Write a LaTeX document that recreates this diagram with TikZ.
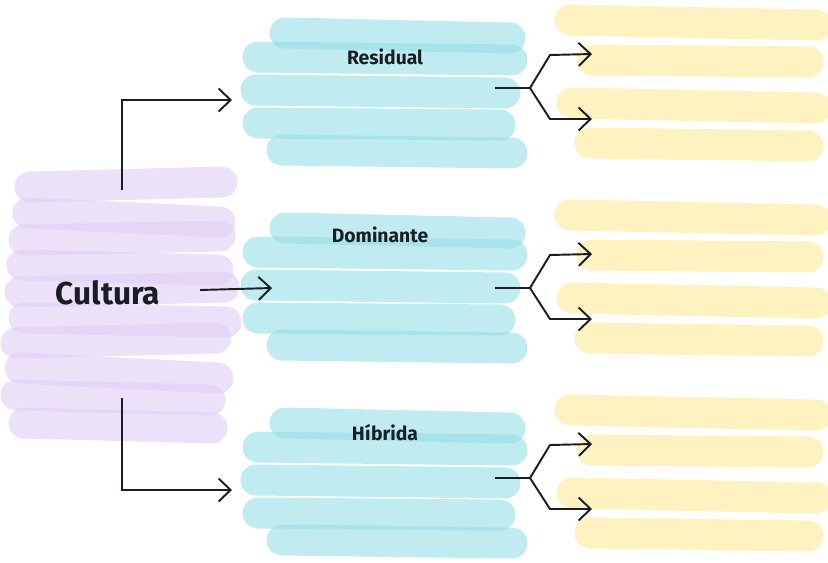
\documentclass[tikz,border=0pt]{standalone}
\usepackage{fontspec}
\setmainfont{Fira Sans}
\usepackage{tikz}
\usetikzlibrary{arrows.meta, positioning}

\definecolor{lila}{RGB}{222,206,246}
\definecolor{turq}{RGB}{150,222,230}
\definecolor{gelb}{RGB}{252,234,150}
\definecolor{ink}{RGB}{25,30,35}

\tikzset{
	marker/.style={line width=0.62cm, line cap=round, opacity=0.6},
	title/.style={font=\fontsize{18}{20}\selectfont\bfseries, text=ink},
	tag/.style={font=\fontsize{11}{13}\selectfont\bfseries, text=ink},
	pen/.style={draw=ink, line width=1.1pt, -{Straight Barb[length=2.4mm, width=4.6mm]}},
	stem/.style={draw=ink, line width=1.1pt}
}

\begin{document}
\begin{tikzpicture}[x=0.02cm, y=-0.02cm]

\useasboundingbox (0,0) rectangle (828,562);

% purple block
\foreach \xa/\ya/\xb/\yb in {30/187/222/182, 28/213/220/222, 24/240/220/236, 22/265/218/270,
	20/292/224/287, 24/318/226/322, 16/343/216/338, 20/368/218/378, 16/395/210/400, 24/423/212/428}
	\draw [marker, lila] (\xa,\ya) -- (\xb,\yb);

% cyan blocks
\foreach \dy in {0, 195, 390} {
	\foreach \xa/\ya/\xb/\yb in {285/33/510/38, 258/57/512/60, 256/90/505/93, 258/123/500/125, 282/150/512/153}
		\draw [marker, turq] (\xa,\ya+\dy) -- (\xb,\yb+\dy);
}

% yellow blocks
\foreach \dy in {0, 195, 390} {
	\foreach \xa/\ya/\xb/\yb in {570/20/816/25, 592/60/808/62, 572/103/816/108, 590/143/808/146}
		\draw [marker, gelb] (\xa,\ya+\dy) -- (\xb,\yb+\dy);
}

\node [title] (cultura) at (108,293) {Cultura};
\node [tag] (residual) at (385,57) {Residual};
\node [tag] (dominante) at (380,235) {Dominante};
\node [tag] (hibrida) at (385,433) {Híbrida};

\coordinate (up)  at (122,190);
\coordinate (mid) at (200,290);
\coordinate (low) at (122,398);
\coordinate (res-in) at (232,100);
\coordinate (dom-in) at (272,288);
\coordinate (hib-in) at (232,490);

\draw [pen] (up) |- (res-in);
\draw [pen] (mid) -- (dom-in);
\draw [pen] (low) |- (hib-in);

% forks
\foreach \name/\y in {res/88, dom/288, hib/478} {
	\coordinate (\name-out) at (495,\y);
	\coordinate (\name-fork) at (530,\y);
	\draw [stem] (\name-out) -- (\name-fork);
	\draw [pen] (\name-fork) -- (550,\y-33) -- (592,\y-34);
	\draw [pen] (\name-fork) -- (550,\y+31) -- (592,\y+31);
}

\end{tikzpicture}
\end{document}
